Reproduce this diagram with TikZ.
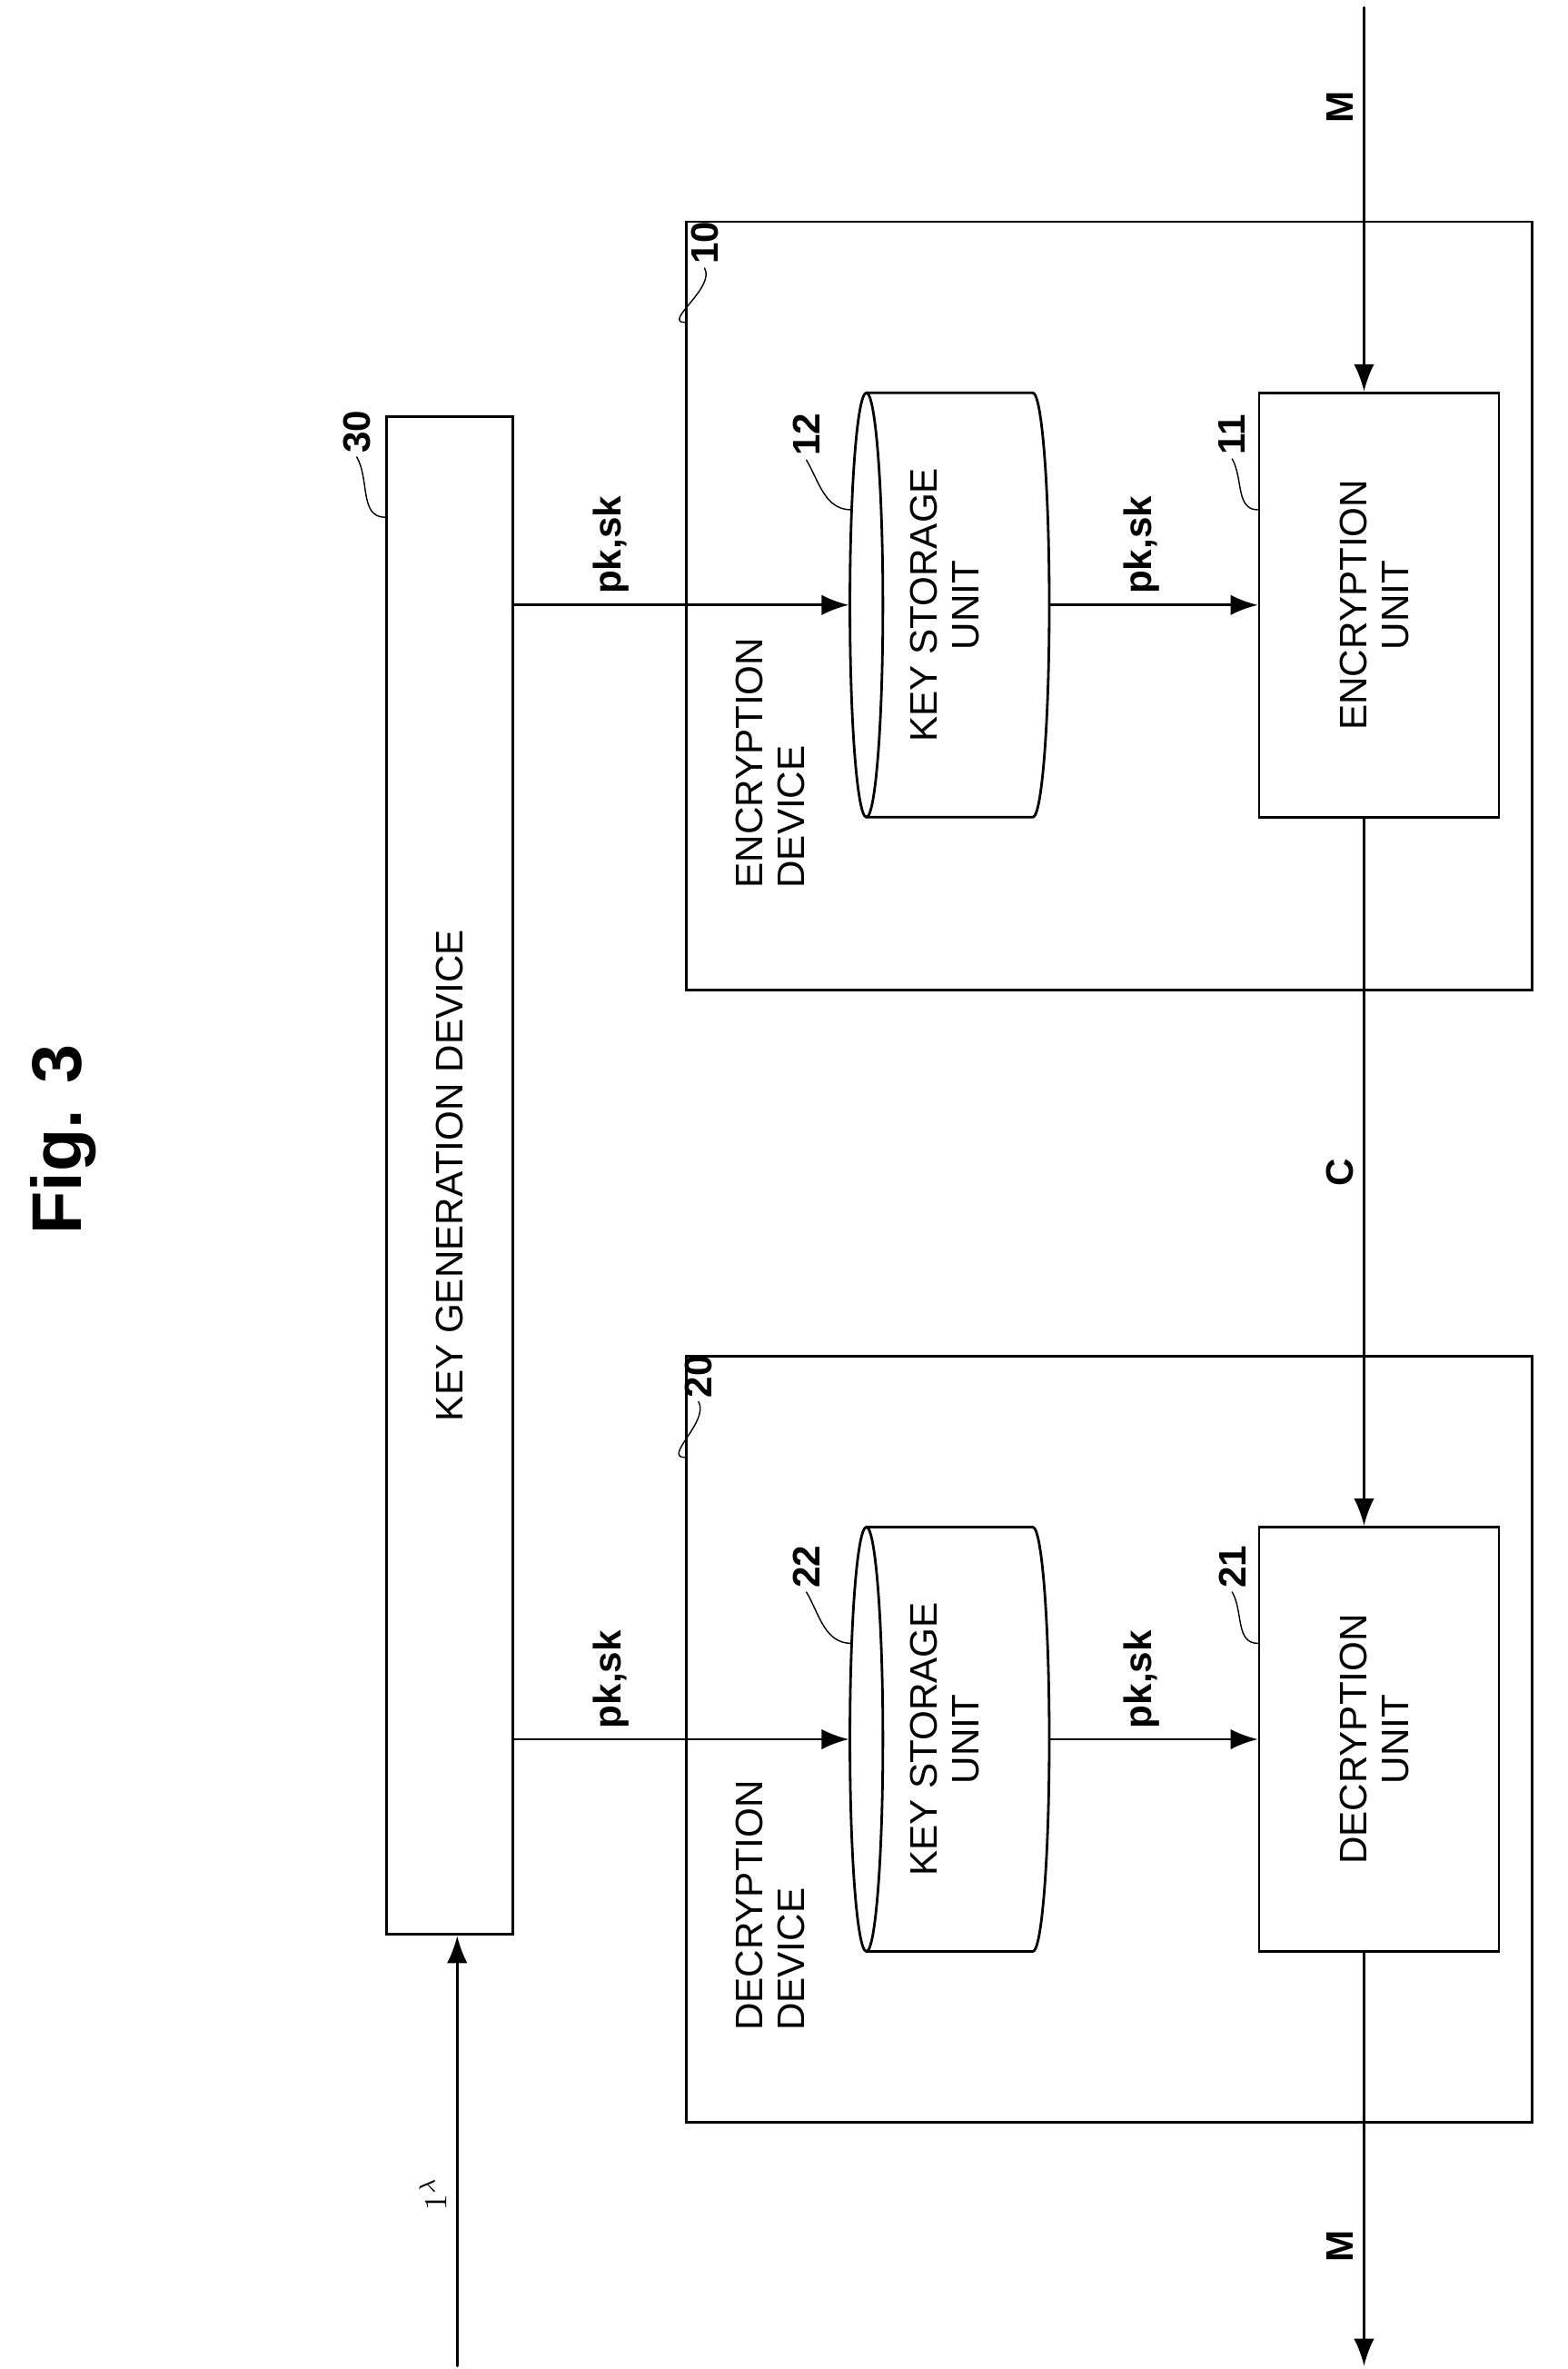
\documentclass[tikz,border=0pt]{standalone}
\usepackage{fontspec}
\setmainfont{Liberation Sans}
\usetikzlibrary{arrows.meta}

\newcommand{\up}[1]{\rotatebox{90}{#1}}
\newcommand{\uptwo}[2]{\rotatebox{90}{\begin{tabular}{@{}c@{}}#1\\#2\end{tabular}}}

\begin{document}
\begin{tikzpicture}[x=0.0165cm, y=0.0165cm, line cap=round,
    box/.style={draw, thick, inner sep=0pt, font=\fontsize{12}{13}\selectfont},
    arr/.style={thick, -{Latex[length=3mm]}},
    lbl/.style={font=\bfseries\fontsize{12}{13}\selectfont, inner sep=3pt},
    ref/.style={font=\bfseries\fontsize{12}{13}\selectfont, inner sep=1pt},
    tick/.style={thin}]
    \useasboundingbox (0,0) rectangle (1046,-1580);

    \node[font=\bfseries\fontsize{22}{24}\selectfont] (title) at (42,-760) {\up{Fig. 3}};

    % devices
    \node[box, minimum width=1.39cm, minimum height=16.70cm] (kg) at (300,-784) {\up{KEY GENERATION DEVICE}};
    \node[box, minimum width=9.31cm, minimum height=8.45cm] (encdev) at (740,-404) {};
    \node[box, minimum width=9.31cm, minimum height=8.42cm] (decdev) at (740,-1160) {};
    \node[font=\fontsize{12}{13}\selectfont, anchor=south west] at (482,-600) {\rotatebox{90}{\begin{tabular}{@{}l@{}}ENCRYPTION\\DEVICE\end{tabular}}};
    \node[font=\fontsize{12}{13}\selectfont, anchor=south west] at (482,-1362) {\rotatebox{90}{\begin{tabular}{@{}l@{}}DECRYPTION\\DEVICE\end{tabular}}};

    % key storages
    \foreach \n/\cy in {ks1/-403.5, ks2/-1160} {
        \draw[thick] (578,\cy) ellipse [x radius=11, y radius=141.5];
        \draw[thick] (578,\cy+141.5) -- (689,\cy+141.5)
            arc[start angle=90, end angle=-90, x radius=11, y radius=141.5] -- (578,\cy-141.5);
        \node[box, draw=none, minimum width=2.19cm, minimum height=4.67cm] (\n) at (633.5,\cy) {\uptwo{KEY STORAGE}{UNIT}};
    }

    % units
    \node[box, minimum width=2.64cm, minimum height=4.67cm] (enc) at (920,-403.5) {\uptwo{ENCRYPTION}{UNIT}};
    \node[box, minimum width=2.64cm, minimum height=4.67cm] (dec) at (920,-1160) {\uptwo{DECRYPTION}{UNIT}};

    % reference numbers
    \node[ref] (n30) at (238,-288) {\up{30}};
    \node[ref] (n10) at (470,-162) {\up{10}};
    \node[ref] (n20) at (466,-918) {\up{20}};
    \node[ref] (n12) at (538,-290) {\up{12}};
    \node[ref] (n22) at (538,-1045) {\up{22}};
    \node[ref] (n11) at (822,-290) {\up{11}};
    \node[ref] (n21) at (822,-1045) {\up{21}};
    \draw[tick] (n30.south) to[out=-60, in=180] (kg.west |- 0,-345);
    \draw[tick] (n10.south) to[out=-60, in=180] (encdev.west |- 0,-215);
    \draw[tick] (n20.south) to[out=-60, in=180] (decdev.west |- 0,-972);
    \draw[tick] (n12.south) to[out=-60, in=180] (568,-340);
    \draw[tick] (n22.south) to[out=-60, in=180] (568,-1096);
    \draw[tick] (n11.south) to[out=-60, in=180] (enc.west |- 0,-340);
    \draw[tick] (n21.south) to[out=-60, in=180] (dec.west |- 0,-1096);

    % key flows
    \draw[arr] (kg.east |- ks1.west) -- node[lbl, pos=0.29, above] {\up{pk,sk}} (ks1.west);
    \draw[arr] (ks1.east) -- node[lbl, pos=0.44, above] {\up{pk,sk}} (enc.west);
    \draw[arr] (kg.east |- ks2.west) -- node[lbl, pos=0.29, above] {\up{pk,sk}} (ks2.west);
    \draw[arr] (ks2.east) -- node[lbl, pos=0.44, above] {\up{pk,sk}} (dec.west);

    % messages
    \coordinate (min) at (910,-5);
    \coordinate (mout) at (910,-1578);
    \coordinate (lam) at (305,-1578);
    \draw[arr] (min) -- node[lbl, pos=0.26, left] {\up{M}} (min |- enc.north);
    \draw[arr] (min |- enc.south) -- node[lbl, pos=0.5, left] {\up{C}} (min |- dec.north);
    \draw[arr] (min |- dec.south) -- node[lbl, pos=0.71, left] {\up{M}} (mout);
    \draw[arr] (lam) -- node[lbl, pos=0.4, left, font=\fontsize{10}{11}\selectfont] {\up{$1^{\lambda}$}} (lam |- kg.south);
\end{tikzpicture}
\end{document}
